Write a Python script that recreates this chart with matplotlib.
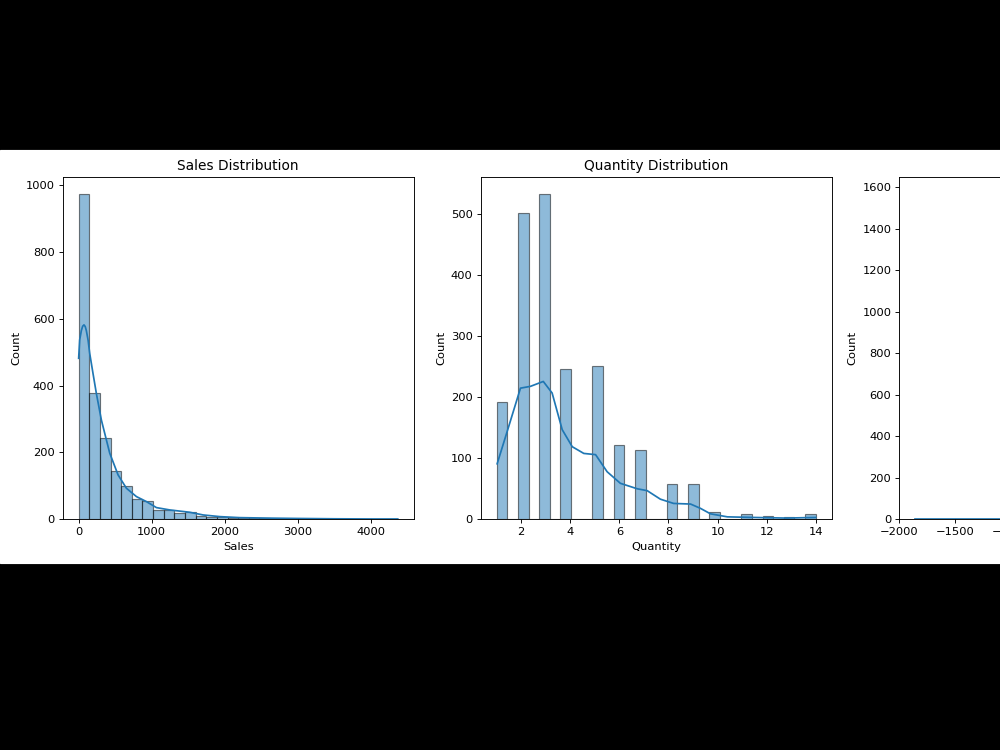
import numpy as np
import matplotlib.pyplot as plt
from matplotlib.patches import Rectangle

# ── Datos ─────────────────────────────────────────────────────────────────────
# Sales: 30 bins entre 0 y ~4365
SALES_MIN = 0.0
SALES_MAX = 4365.0
SALES_COUNTS = [975, 378, 243, 145, 100, 62, 54, 28, 28, 20,
                21, 10, 8, 8, 4, 3, 3, 3, 2, 2,
                2, 1, 1, 1, 1, 0, 0, 1, 0, 1]
SALES_KDE_X = [0, 14, 37, 55, 73, 90, 105, 130, 151, 196, 242, 311, 425, 539,
               653, 790, 927, 1064, 1247, 1521, 1703, 1932, 2200, 2600, 3000,
               3500, 4000, 4365]
SALES_KDE_Y = [482, 537, 565, 578, 582, 577, 565, 535, 497, 437, 377, 297,
               198, 133, 93, 68, 53, 35, 28, 21, 13, 8, 5, 3.5, 2.5, 1.5, 1, 1]

# Quantity: valores enteros 1..14, 30 bins entre 1 y 14
QTY_VALUES = [1, 2, 3, 4, 5, 6, 7, 8, 9, 10, 11, 12, 13, 14]
QTY_COUNTS = [192, 502, 534, 247, 252, 122, 114, 58, 58, 12, 8, 6, 4, 8]
QTY_KDE_X = [1.02, 1.49, 1.97, 2.38, 2.90, 3.26, 3.67, 4.08, 4.55, 5.03,
             5.50, 6.04, 6.73, 7.13, 7.67, 8.21, 8.90, 9.30, 9.71, 10.4,
             11.5, 12.8, 14.0]
QTY_KDE_Y = [91, 152, 215, 218, 226, 207, 147, 119, 108, 106,
             78, 59, 50, 47, 33, 26, 25, 18, 9, 4,
             3, 2, 3]

# Profit: solo se ve la cola izquierda
PROFIT_KDE_X = [-1862, -1700, -1500, -1300, -1100]
PROFIT_KDE_Y = [1.5, 1.5, 1.5, 1.5, 1.5]

BAR_KW = dict(color="C0", alpha=0.5, edgecolor="black", linewidth=1.0)

# ── Figura ────────────────────────────────────────────────────────────────────
# la figura original está reducida (~0.826), así que se usa un dpi menor
DPI = 82.6
fig = plt.figure(figsize=(1000 / DPI, 750 / DPI), dpi=DPI, facecolor="black")
fig.add_artist(Rectangle((0, 187 / 750), 1, 413 / 750,
                         transform=fig.transFigure, color="white", zorder=-10))

bottom, height, width = 0.3076, 0.456, 0.351
ax1 = fig.add_axes([0.0627, bottom, width, height])
ax2 = fig.add_axes([0.4807, bottom, width, height])
ax3 = fig.add_axes([0.8993, bottom, width, height])

# Sales
edges = np.linspace(SALES_MIN, SALES_MAX, len(SALES_COUNTS) + 1)
centers = (edges[:-1] + edges[1:]) / 2
ax1.hist(centers, bins=edges, weights=SALES_COUNTS, **BAR_KW)
ax1.plot(SALES_KDE_X, SALES_KDE_Y, color="C0", linewidth=1.5)
ax1.set_title("Sales Distribution")
ax1.set_xlabel("Sales")
ax1.set_ylabel("Count")

# Quantity
q_edges = np.linspace(1, 14, 31)
ax2.hist(QTY_VALUES, bins=q_edges, weights=QTY_COUNTS, **BAR_KW)
ax2.plot(QTY_KDE_X, QTY_KDE_Y, color="C0", linewidth=1.5)
ax2.set_title("Quantity Distribution")
ax2.set_xlabel("Quantity")
ax2.set_ylabel("Count")

# Profit (recortado por el borde derecho)
ax3.plot(PROFIT_KDE_X, PROFIT_KDE_Y, color="C0", linewidth=1.5)
ax3.set_xlim(-2000, 1134)
ax3.set_ylim(0, 1647)
ax3.set_yticks(range(0, 1601, 200))
ax3.set_ylabel("Count")

fig.savefig("out.png", dpi=DPI, facecolor=fig.get_facecolor())
